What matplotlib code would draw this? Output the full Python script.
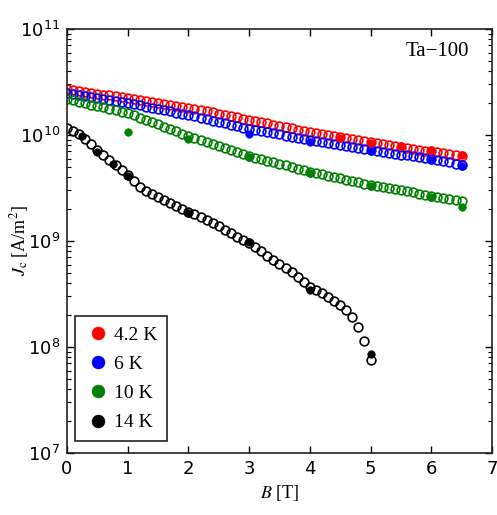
import numpy as np
import matplotlib
matplotlib.use("Agg")
import matplotlib.pyplot as plt

# magnetic field steps [T] for the open (fine) sweeps
b_fine = np.round(np.arange(0, 6.51, 0.1), 1)
b_fine_14k = np.round(np.arange(0, 5.01, 0.1), 1)

# open circles, Jc in units of 1e10 A/m^2
jc_42k_open = [2.72, 2.665, 2.612, 2.559, 2.508, 2.457, 2.408, 2.360, 2.312, 2.266,
               2.220, 2.176, 2.132, 2.089, 2.047, 2.006, 1.966, 1.926, 1.888, 1.850,
               1.813, 1.766, 1.720, 1.675, 1.631, 1.588, 1.547, 1.506, 1.467, 1.429,
               1.391, 1.355, 1.320, 1.285, 1.252, 1.219, 1.187, 1.156, 1.126, 1.097,
               1.068, 1.046, 1.024, 1.002, 0.981, 0.961, 0.941, 0.921, 0.902, 0.883,
               0.864, 0.846, 0.828, 0.811, 0.794, 0.777, 0.761, 0.745, 0.729, 0.714,
               0.699, 0.684, 0.670, 0.656, 0.642, 0.629]
jc_6k_open = [2.490, 2.436, 2.383, 2.332, 2.281, 2.232, 2.183, 2.136, 2.090, 2.044,
              2.000, 1.949, 1.899, 1.851, 1.804, 1.758, 1.713, 1.669, 1.627, 1.585,
              1.545, 1.499, 1.454, 1.410, 1.368, 1.327, 1.287, 1.248, 1.211, 1.174,
              1.139, 1.112, 1.086, 1.060, 1.035, 1.011, 0.987, 0.964, 0.941, 0.919,
              0.897, 0.878, 0.859, 0.840, 0.822, 0.804, 0.787, 0.770, 0.753, 0.737,
              0.721, 0.707, 0.693, 0.680, 0.667, 0.654, 0.641, 0.629, 0.617, 0.605,
              0.593, 0.579, 0.565, 0.551, 0.538, 0.525]
jc_10k_open = [2.190, 2.124, 2.061, 1.999, 1.939, 1.881, 1.824, 1.770, 1.717, 1.665,
               1.615, 1.536, 1.461, 1.390, 1.323, 1.258, 1.197, 1.139, 1.083, 1.031,
               0.981, 0.939, 0.899, 0.861, 0.824, 0.789, 0.756, 0.724, 0.693, 0.663,
               0.635, 0.613, 0.592, 0.572, 0.553, 0.534, 0.516, 0.498, 0.481, 0.465,
               0.449, 0.437, 0.424, 0.413, 0.401, 0.390, 0.379, 0.369, 0.358, 0.348,
               0.339, 0.331, 0.323, 0.315, 0.308, 0.301, 0.294, 0.287, 0.280, 0.273,
               0.267, 0.261, 0.255, 0.250, 0.244, 0.239]
# 14 K open circles, Jc in units of 1e9 A/m^2
jc_14k_open = [11.64, 10.91, 10.22, 9.17, 8.23, 7.22, 6.48, 5.81, 5.21, 4.68,
               4.19, 3.68, 3.23, 2.96, 2.78, 2.60, 2.44, 2.28, 2.14, 2.00,
               1.88, 1.80, 1.68, 1.58, 1.48, 1.385, 1.27, 1.19, 1.09, 1.02,
               0.957, 0.878, 0.805, 0.722, 0.662, 0.607, 0.556, 0.510, 0.457, 0.410,
               0.368, 0.345, 0.323, 0.296, 0.272, 0.249, 0.223, 0.192, 0.154, 0.114,
               0.0754]

# filled circles (coarse sweeps)
b_42k_fill = [4.5, 5.0, 5.5, 6.0, 6.5]
jc_42k_fill = [0.937, 0.841, 0.788, 0.722, 0.647]          # 1e10 A/m^2
b_6k_fill = [3.0, 4.0, 5.0, 6.0, 6.5]
jc_6k_fill = [1.021, 0.858, 0.706, 0.581, 0.510]           # 1e10 A/m^2
b_10k_fill = [1.0, 2.0, 3.0, 4.0, 5.0, 6.0, 6.5]
jc_10k_fill = [1.067, 0.916, 0.619, 0.438, 0.330, 0.260, 0.2095]  # 1e10 A/m^2
b_14k_fill = [0.25, 0.5, 0.75, 1.0, 2.0, 3.0, 4.0, 5.0]
jc_14k_fill = [9.79, 6.91, 5.33, 4.10, 1.84, 0.979, 0.345, 0.0859]  # 1e9 A/m^2

labels = ["4.2 K", "6 K", "10 K", "14 K"]
colors = ["#ff0000", "#0000ff", "#008000", "#000000"]

serif = ["Liberation Serif", "DejaVu Serif"]

fig = plt.figure(figsize=(4.97, 5.15), dpi=100)
ax = fig.add_axes([0.1348, 0.1204, 0.8551, 0.8233])

opens = [
    (b_fine, np.array(jc_42k_open) * 1e10),
    (b_fine, np.array(jc_6k_open) * 1e10),
    (b_fine, np.array(jc_10k_open) * 1e10),
    (b_fine_14k, np.array(jc_14k_open) * 1e9),
]
fills = [
    (b_42k_fill, np.array(jc_42k_fill) * 1e10),
    (b_6k_fill, np.array(jc_6k_fill) * 1e10),
    (b_10k_fill, np.array(jc_10k_fill) * 1e10),
    (b_14k_fill, np.array(jc_14k_fill) * 1e9),
]

for (bx, jy), c in zip(opens, colors):
    ax.plot(bx, jy, ls="none", marker="o", ms=6.3, mfc="none", mec=c, mew=1.2)

handles = []
for (bx, jy), c, lab in zip(fills, colors, labels):
    h, = ax.plot(bx, jy, ls="none", marker="o", ms=5.4, mfc=c, mec=c, mew=0.5,
                 label=lab)
    handles.append(h)

ax.set_yscale("log")
ax.set_xlim(0, 7)
ax.set_ylim(1e7, 1e11)
ax.set_xticks(range(8))

ax.tick_params(which="both", direction="in", top=True, right=True)
ax.tick_params(which="major", length=5, width=1.0, labelsize=13, pad=5)
ax.tick_params(which="minor", length=3, width=0.8)
ax.tick_params(axis="x", which="minor", bottom=False, top=False)
for sp in ax.spines.values():
    sp.set_linewidth(1.2)
    sp.set_color("#222222")

ax.set_xlabel(r"$B$ [T]", family=serif, fontsize=13, math_fontfamily="stix",
              labelpad=4)
ax.set_ylabel(r"$J_\mathrm{c}$ [A/m$^2$]", family=serif, fontsize=13,
              math_fontfamily="stix")
ax.yaxis.set_label_coords(-0.085, 0.5)

ax.text(0.946, 0.946, "Ta\u2212100", transform=ax.transAxes, ha="right",
        va="center", family=serif, fontsize=15)

leg = ax.legend(handles=handles, loc="lower left", bbox_to_anchor=(0.019, 0.028),
                borderaxespad=0, fancybox=False, edgecolor="#222222",
                framealpha=1, markerscale=1.7, handletextpad=0.1,
                handlelength=1.4, labelspacing=0.6, borderpad=0.5,
                prop={"family": serif, "size": 14})
leg.get_frame().set_linewidth(1.2)

fig.savefig("out.png", dpi=100)
